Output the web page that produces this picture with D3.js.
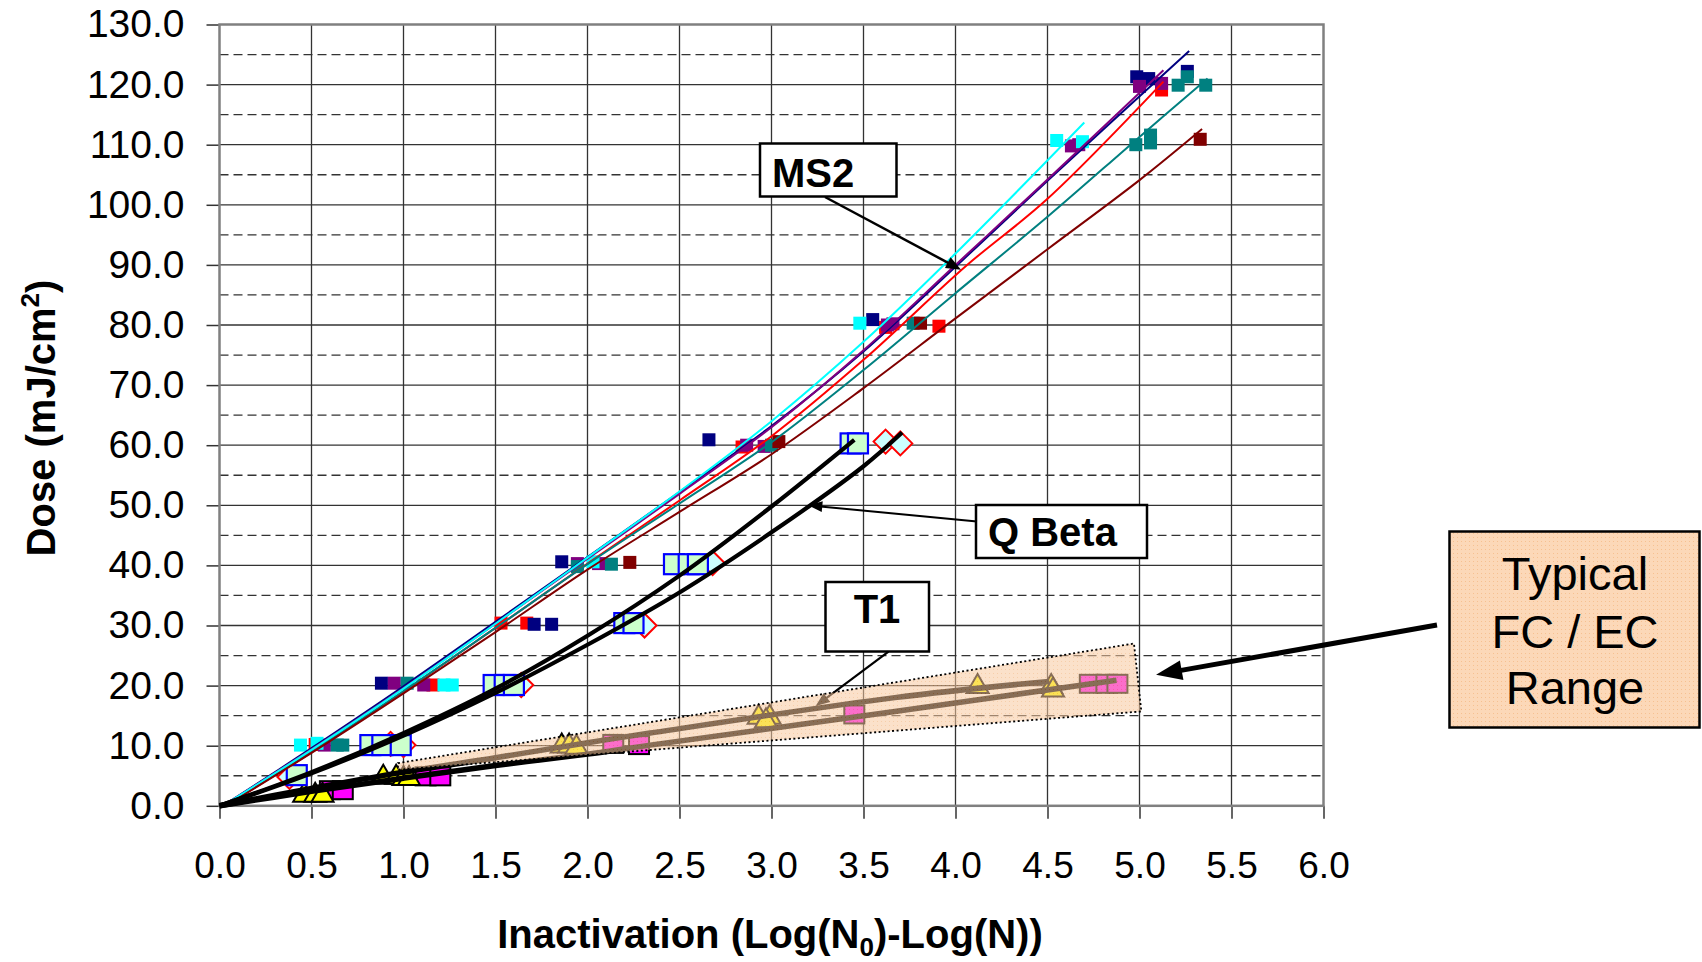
<!DOCTYPE html>
<html><head><meta charset="utf-8">
<script src="https://cdn.jsdelivr.net/npm/d3@7"></script>
<style>
html,body{margin:0;padding:0;background:#fff;}
svg{display:block;font-family:"Liberation Sans",Arial,sans-serif;}
</style></head><body>
<svg id="chart" width="1702" height="962"></svg>
<script>
// ================= DATA =================
const xTickValues = [0.0,0.5,1.0,1.5,2.0,2.5,3.0,3.5,4.0,4.5,5.0,5.5,6.0];
const yTickValues = [0,10,20,30,40,50,60,70,80,90,100,110,120,130];
const yMinorValues = [5,15,25,35,45,55,65,75,85,95,105,115,125];

// MS2 measured points (Inactivation, Dose)
const ms2NavyPts   = [[0.88,20.4],[1.71,30.2],[1.805,30.2],[1.86,40.6],[2.66,60.9],[3.55,80.9],[4.985,121.3],[5.05,121.0],[5.26,122.2]];
const ms2PurplePts = [[0.57,10.1],[0.95,20.4],[1.11,20.1],[1.945,40.3],[2.06,40.3],[2.865,60.0],[2.96,59.8],[3.63,80.0],[3.66,80.2],[4.63,109.8],[4.67,110.0],[5.0,119.7],[5.12,120.2]];
const ms2TealPts   = [[0.64,10.1],[0.67,10.1],[1.02,20.4],[1.945,39.8],[2.13,40.2],[3.0,60.0],[3.77,80.3],[4.98,110.0],[5.06,110.3],[5.06,111.6],[5.21,119.9],[5.26,121.3],[5.36,119.9]];
const ms2RedPts    = [[0.52,10.2],[1.16,20.1],[1.53,30.4],[1.67,30.4],[2.84,59.7],[3.62,79.6],[3.91,79.8],[5.12,119.1]];
const ms2CyanPts   = [[0.44,10.1],[0.53,10.4],[1.22,20.1],[1.265,20.1],[2.03,40.6],[3.48,80.3],[4.55,110.7],[4.69,110.5]];
const ms2MaroonPts = [[2.23,40.5],[3.04,60.6],[3.81,80.3],[5.33,110.9]];

// MS2 fitted curves
const ms2NavyFit   = [[0.05,0.6],[0.5,9.6],[1.0,19.9],[1.5,30.6],[2.0,41.4],[2.5,52.2],[3.0,63.2],[3.5,75.6],[4.0,89.7],[4.5,104.0],[5.27,125.6]];
const ms2PurpleFit = [[0.05,0.6],[0.5,9.4],[1.0,19.6],[1.5,30.3],[2.0,41.1],[2.5,51.9],[3.0,63.0],[3.5,75.8],[4.0,90.0],[4.5,104.2],[5.13,122.4]];
const ms2TealFit   = [[0.05,0.4],[0.5,9.0],[1.0,19.1],[1.5,29.6],[2.0,40.2],[2.5,50.3],[3.0,60.5],[3.5,72.5],[4.0,85.3],[4.5,98.0],[5.0,111.3],[5.37,121.0]];
const ms2RedFit    = [[0.05,0.4],[0.5,8.9],[1.0,19.0],[1.5,29.6],[2.0,40.3],[2.5,50.8],[3.0,61.5],[3.5,74.2],[4.06,89.9],[4.5,101.0],[5.13,120.5]];
const ms2CyanFit   = [[0.05,0.6],[0.5,9.3],[1.0,19.5],[1.5,30.3],[2.0,41.3],[2.5,52.3],[3.0,64.0],[3.5,77.2],[4.0,91.9],[4.7,113.7]];
const ms2MaroonFit = [[0.05,0.3],[0.5,8.8],[1.0,18.7],[1.5,28.9],[2.0,39.3],[2.5,48.9],[3.0,58.5],[3.5,69.5],[4.0,81.1],[4.5,92.6],[5.0,104.1],[5.34,112.6]];

// Q Beta
const qbSquarePts  = [[0.42,5.1],[0.82,10.1],[0.885,10.1],[0.985,10.1],[1.49,20.1],[1.55,20.1],[1.6,20.1],[2.2,30.4],[2.25,30.4],[2.47,40.2],[2.55,40.2],[2.6,40.2],[3.43,60.3],[3.47,60.3]];
const qbDiamondPts = [[0.38,4.8],[0.93,10.3],[1.0,10.1],[1.64,20.1],[2.31,30.0],[2.68,40.4],[3.62,60.6],[3.70,60.3]];
const qbFitA = [[0,0],[0.5,5.6],[1.0,12.1],[1.5,19.5],[2.0,28.3],[2.5,38.3],[3.0,49.8],[3.45,60.9]];
const qbFitB = [[0,0],[0.5,5.4],[1.0,11.7],[1.5,18.8],[2.0,26.8],[2.5,35.5],[3.0,45.5],[3.5,56.5],[3.71,62.1]];

// T1
const t1TrianglePts = [[0.46,2.0],[0.52,2.0],[0.56,2.0],[0.89,5.0],[0.96,5.0],[1.0,4.8],[1.03,4.8],[1.86,10.2],[1.9,10.2],[1.94,10.0],[2.93,15.0],[2.99,15.0],[2.97,14.4],[4.12,20.1],[4.52,20.1],[4.53,19.5]];
const t1SquarePts   = [[0.60,2.6],[0.67,2.6],[1.12,4.9],[1.20,4.9],[2.14,10.3],[2.28,10.1],[3.45,15.2],[4.73,20.3],[4.82,20.3],[4.88,20.3]];
const t1FitA = [[0,0],[0.5,2.9],[1.0,5.6],[1.5,8.0],[2.0,10.5],[2.34,12.1],[3.67,18.0],[4.51,20.7]];
const t1FitB = [[0,0],[0.5,2.4],[1.0,4.6],[1.5,6.7],[2.0,8.6],[2.34,10.1],[3.67,15.7],[4.875,20.9]];

// Typical FC / EC range (data corners)
const fcRange = [[0.97,7.1],[4.97,27.0],[5.01,15.7],[0.97,6.0]];

// Annotation arrow tips (data coordinates)
const ms2Tip = [4.03,89.2];
const qbTip  = [3.2,50.0];
const t1Tip  = [3.24,16.6];
const fcTip  = [5.09,21.8];

// ================= CHART =================
const svg = d3.select("#chart");
svg.append("rect").attr("width",1702).attr("height",962).attr("fill","#fff");

const x = d3.scaleLinear().domain([0,6]).range([219.5,1323.5]);
const y = d3.scaleLinear().domain([0,130]).range([805.8,24.5]);
const FONT = '"Liberation Sans",Arial,sans-serif';

const defs = svg.append("defs");
const pat = defs.append("pattern").attr("id","dots").attr("patternUnits","userSpaceOnUse")
  .attr("width",4).attr("height",4);
pat.append("rect").attr("width",4).attr("height",4).attr("fill","#F8C89E");
pat.append("rect").attr("x",1).attr("y",1).attr("width",1).attr("height",1).attr("fill","#EFA664");
const pat2 = defs.append("pattern").attr("id","dots2").attr("patternUnits","userSpaceOnUse")
  .attr("width",4).attr("height",4);
pat2.append("rect").attr("width",4).attr("height",4).attr("fill","#FCD8B8");
pat2.append("rect").attr("x",1).attr("y",1).attr("width",1).attr("height",1).attr("fill","#F6C090");

// grid
const grid = svg.append("g");
grid.selectAll("line.v").data(xTickValues.filter(v=>v>0&&v<6)).join("line")
  .attr("x1",d=>x(d)).attr("x2",d=>x(d)).attr("y1",y(130)).attr("y2",y(0))
  .attr("stroke","#333").attr("stroke-width",1.3);
grid.selectAll("line.h").data(yTickValues.filter(v=>v>0&&v<130)).join("line")
  .attr("x1",x(0)).attr("x2",x(6)).attr("y1",d=>y(d)).attr("y2",d=>y(d))
  .attr("stroke","#333").attr("stroke-width",1.3);
grid.selectAll("line.m").data(yMinorValues).join("line")
  .attr("x1",x(0)).attr("x2",x(6)).attr("y1",d=>y(d)).attr("y2",d=>y(d))
  .attr("stroke","#333").attr("stroke-width",1.3).attr("stroke-dasharray","9,5");

// axes
const yAxis = d3.axisLeft(y).tickValues(yTickValues).tickFormat(d3.format(".1f")).tickSize(13).tickPadding(22);
svg.append("g").attr("transform",`translate(${x(0)},0)`).call(yAxis)
  .call(g=>g.select(".domain").remove())
  .call(g=>g.selectAll("line").attr("stroke","#333").attr("stroke-width",1.5))
  .call(g=>g.selectAll("text").attr("font-size",39).attr("font-family",FONT).attr("fill","#000"));
const xAxis = d3.axisBottom(x).tickValues(xTickValues).tickFormat(d3.format(".1f")).tickSize(13).tickPadding(33);
svg.append("g").attr("transform",`translate(0,${y(0)})`).call(xAxis)
  .call(g=>g.select(".domain").remove())
  .call(g=>g.selectAll("line").attr("stroke","#333").attr("stroke-width",1.5))
  .call(g=>g.selectAll("text").attr("font-size",37).attr("font-family",FONT).attr("fill","#000"));

// border
svg.append("rect").attr("x",x(0)).attr("y",y(130)).attr("width",x(6)-x(0)).attr("height",y(0)-y(130))
  .attr("fill","none").attr("stroke","#808080").attr("stroke-width",2.5);

// axis titles
const yt = svg.append("text").attr("transform",`translate(55,418) rotate(-90)`)
  .attr("text-anchor","middle").attr("font-family",FONT).attr("font-weight","bold").attr("font-size",40).attr("fill","#000");
yt.append("tspan").text("Dose (mJ/cm");
yt.append("tspan").text("2").attr("font-size",26).attr("dy",-16);
yt.append("tspan").text(")").attr("dy",16);

const xt = svg.append("text").attr("x",770).attr("y",948).attr("text-anchor","middle")
  .attr("font-family",FONT).attr("font-weight","bold").attr("font-size",40).attr("fill","#000");
xt.append("tspan").text("Inactivation (Log(N");
xt.append("tspan").text("0").attr("font-size",26).attr("dy",8);
xt.append("tspan").text(")-Log(N))").attr("dy",-8);

const plot = svg.append("g");
const line = d3.line().x(d=>x(d[0])).y(d=>y(d[1])).curve(d3.curveCatmullRom.alpha(0.5));

// ---- T1 markers ----
plot.selectAll("rect.t1s").data(t1SquarePts).join("rect")
  .attr("x",d=>x(d[0])-10).attr("y",d=>y(d[1])-9).attr("width",20).attr("height",18)
  .attr("fill","#FF00FF").attr("stroke","#000").attr("stroke-width",2);
plot.selectAll("path.t1t").data(t1TrianglePts).join("path")
  .attr("d",d=>{const cx=x(d[0]),cy=y(d[1]);return `M${cx},${cy-11}L${cx+11},${cy+8}L${cx-11},${cy+8}Z`;})
  .attr("fill","#FFFF00").attr("stroke","#000").attr("stroke-width",2);

// ---- Q Beta markers ----
plot.selectAll("path.qbd").data(qbDiamondPts).join("path")
  .attr("d",d=>{const cx=x(d[0]),cy=y(d[1]);return `M${cx},${cy-12}L${cx+12},${cy}L${cx},${cy+12}L${cx-12},${cy}Z`;})
  .attr("fill","#CCFFFF").attr("stroke","#FF0000").attr("stroke-width",2);
plot.selectAll("rect.qbs").data(qbSquarePts).join("rect")
  .attr("x",d=>x(d[0])-10).attr("y",d=>y(d[1])-10).attr("width",20).attr("height",20)
  .attr("fill","#CCFFCC").attr("stroke","#0000FF").attr("stroke-width",2.2);

// ---- MS2 markers ----
const ms2Series = [
  {pts: ms2RedPts, fit: ms2RedFit, color: "#FF0000"},
  {pts: ms2NavyPts, fit: ms2NavyFit, color: "#000080"},
  {pts: ms2PurplePts, fit: ms2PurpleFit, color: "#800080"},
  {pts: ms2TealPts, fit: ms2TealFit, color: "#008080"},
  {pts: ms2CyanPts, fit: ms2CyanFit, color: "#00FFFF"},
  {pts: ms2MaroonPts, fit: ms2MaroonFit, color: "#800000"}
];
ms2Series.forEach(s=>{
  plot.append("g").selectAll("rect").data(s.pts).join("rect")
    .attr("x",d=>x(d[0])-6.5).attr("y",d=>y(d[1])-6.5).attr("width",13).attr("height",13)
    .attr("fill",s.color);
});

// ---- fits ----
ms2Series.forEach(s=>{
  plot.append("path").datum(s.fit).attr("d",line).attr("fill","none")
    .attr("stroke",s.color).attr("stroke-width",2);
});
[qbFitA,qbFitB].forEach(f=>{
  plot.append("path").datum(f).attr("d",line).attr("fill","none")
    .attr("stroke","#000").attr("stroke-width",4.2);
});
[t1FitA,t1FitB].forEach(f=>{
  plot.append("path").datum(f).attr("d",line).attr("fill","none")
    .attr("stroke","#000").attr("stroke-width",5.5);
});

// arrow helper
function arrow(g, x1, y1, x2, y2, w, L, W){
  const dx=x2-x1, dy=y2-y1, len=Math.hypot(dx,dy), ux=dx/len, uy=dy/len;
  const bx=x2-ux*L, by=y2-uy*L;
  g.append("line").attr("x1",x1).attr("y1",y1).attr("x2",bx+ux*2).attr("y2",by+uy*2)
    .attr("stroke","#000").attr("stroke-width",w);
  g.append("path").attr("d",`M${x2},${y2}L${bx-uy*W/2},${by+ux*W/2}L${bx+uy*W/2},${by-ux*W/2}Z`).attr("fill","#000");
}
const ann = svg.append("g");

// T1 annotation (under the overlay)
ann.append("rect").attr("x",825.5).attr("y",582).attr("width",103.5).attr("height",69.5)
  .attr("fill","#fff").attr("stroke","#000").attr("stroke-width",2.5);
ann.append("text").attr("x",877).attr("y",623).attr("text-anchor","middle").attr("font-family",FONT)
  .attr("font-weight","bold").attr("font-size",40).text("T1");
arrow(ann, 888.5, 651.7, x(t1Tip[0]), y(t1Tip[1]), 2.2, 14, 11);

// overlay range polygon
svg.append("path").datum(fcRange)
  .attr("d",d=>"M"+d.map(p=>`${x(p[0])},${y(p[1])}`).join("L")+"Z")
  .attr("fill","url(#dots)").attr("fill-opacity",0.55)
  .attr("stroke","#000").attr("stroke-width",1.8).attr("stroke-dasharray","2,2.5");

// MS2 annotation
const ann2 = svg.append("g");
ann2.append("rect").attr("x",760).attr("y",143.5).attr("width",136.5).attr("height",53)
  .attr("fill","#fff").attr("stroke","#000").attr("stroke-width",2.5);
ann2.append("text").attr("x",772).attr("y",186.5).attr("font-family",FONT)
  .attr("font-weight","bold").attr("font-size",40).text("MS2");
arrow(ann2, 825, 197, x(ms2Tip[0]), y(ms2Tip[1]), 2.5, 15, 12);

// Q Beta annotation
ann2.append("rect").attr("x",976).attr("y",505).attr("width",171).attr("height",53)
  .attr("fill","#fff").attr("stroke","#000").attr("stroke-width",2.5);
ann2.append("text").attr("x",988).attr("y",546).attr("font-family",FONT)
  .attr("font-weight","bold").attr("font-size",40).text("Q Beta");
arrow(ann2, 977, 521.5, x(qbTip[0]), y(qbTip[1]), 2, 14, 11);

// Typical FC / EC Range
ann2.append("rect").attr("x",1449.5).attr("y",531.5).attr("width",250).attr("height",196)
  .attr("fill","url(#dots2)").attr("stroke","#000").attr("stroke-width",2.5);
const tt = ann2.append("text").attr("text-anchor","middle").attr("font-family",FONT)
  .attr("font-size",47).attr("fill","#000");
[["Typical",590],["FC / EC",648],["Range",704]].forEach(([s,yy])=>{
  tt.append("tspan").attr("x",1575).attr("y",yy).text(s);
});
arrow(ann2, 1437, 625, x(fcTip[0]), y(fcTip[1]), 5, 26, 20);
</script>
</body></html>
